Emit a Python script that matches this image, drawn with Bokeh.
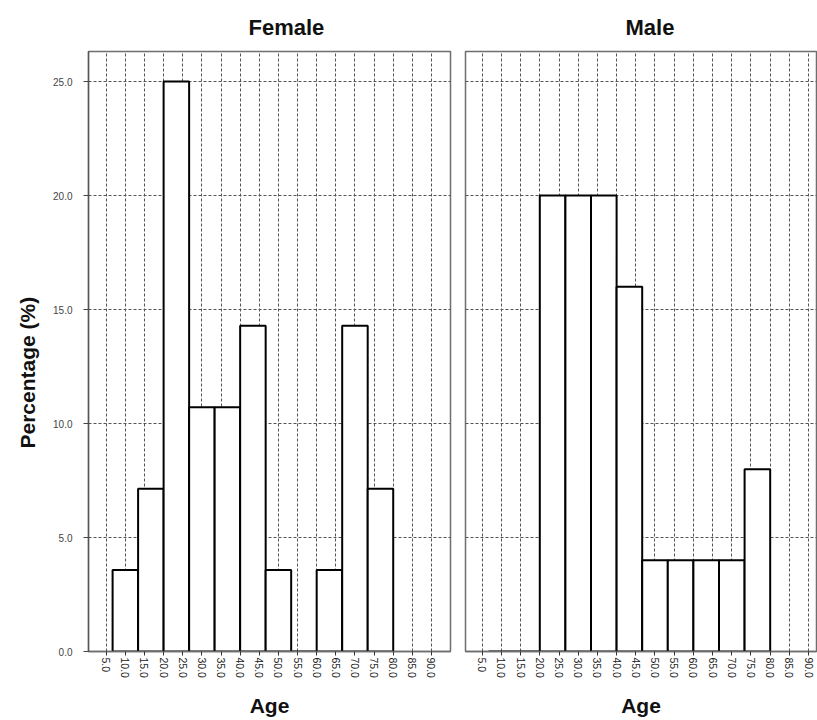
import math
from bokeh.plotting import figure
from bokeh.layouts import row
from bokeh.models import Range1d, FixedTicker, Title
from bokeh.embed import file_html
from bokeh.resources import INLINE

# ---- data ----
bin_index = list(range(11))
female_pct = [3.57, 7.14, 25.0, 10.71, 10.71, 14.29, 3.57, 0.0, 3.57, 14.29, 7.14]
male_pct = [0.0, 0.0, 20.0, 20.0, 20.0, 16.0, 4.0, 4.0, 4.0, 4.0, 8.0]
age_ticks = [5.0, 10.0, 15.0, 20.0, 25.0, 30.0, 35.0, 40.0, 45.0, 50.0,
             55.0, 60.0, 65.0, 70.0, 75.0, 80.0, 85.0, 90.0]
age_tick_labels = ["5.0", "10.0", "15.0", "20.0", "25.0", "30.0", "35.0", "40.0", "45.0",
                   "50.0", "55.0", "60.0", "65.0", "70.0", "75.0", "80.0", "85.0", "90.0"]
pct_ticks = [0.0, 5.0, 10.0, 15.0, 20.0, 25.0]
pct_tick_labels = ["0.0", "5.0", "10.0", "15.0", "20.0", "25.0"]
panel_titles = ["Female", "Male"]
x_title = "Age"
y_title = "Percentage (%)"

BIN_AGE = 20.0 / 3.0   # one bar slot expressed in tick units of the age axis
FONT = "Liberation Sans"


def make_panel(title, pct, x_start, x_end, frame_w, b_left, b_right, show_y):
    p = figure(output_backend="svg", toolbar_location=None,
               frame_width=frame_w, frame_height=600,
               min_border_left=b_left, min_border_right=b_right,
               min_border_top=50, min_border_bottom=0,
               x_range=Range1d(x_start, x_end), y_range=Range1d(0, 26.32),
               background_fill_color="white", border_fill_color="white")
    p.extra_x_ranges = {"bins": Range1d(x_start / BIN_AGE - 1.0, x_end / BIN_AGE - 1.0)}

    p.title.text = title
    p.title.text_font = FONT
    p.title.text_font_size = "22px"
    p.title.text_font_style = "bold"
    p.title.text_color = "#111111"
    p.title.align = "left"
    p.title.offset = 160
    p.title.standoff = 24

    p.outline_line_color = "#6e6e6e"
    p.outline_line_width = 1.5

    # grids
    p.xgrid.ticker = FixedTicker(ticks=age_ticks)
    p.ygrid.ticker = FixedTicker(ticks=pct_ticks)
    for g in (p.xgrid, p.ygrid):
        g.grid_line_color = "#555555"
        g.grid_line_dash = "3 2"
        g.grid_line_width = 1

    # x axis
    xa = p.xaxis[0]
    xa.ticker = FixedTicker(ticks=age_ticks)
    xa.major_label_overrides = dict(zip(age_ticks, age_tick_labels))
    xa.major_label_orientation = -math.pi / 2
    xa.major_label_text_font = FONT
    xa.major_label_text_font_size = "10.5px"
    xa.major_label_text_color = "#222222"
    xa.major_label_standoff = 2
    xa.major_tick_out = 4
    xa.major_tick_in = 0
    xa.minor_tick_out = 0
    xa.minor_tick_in = 0
    xa.axis_line_color = "#6e6e6e"
    xa.axis_line_width = 1.5
    xa.major_tick_line_color = "#333333"
    xa.axis_label = x_title
    xa.axis_label_text_font = FONT
    xa.axis_label_text_font_size = "21px"
    xa.axis_label_text_font_style = "bold"
    xa.axis_label_text_color = "#111111"
    xa.axis_label_standoff = 13

    ya = p.yaxis[0]
    if show_y:
        ya.ticker = FixedTicker(ticks=pct_ticks)
        ya.major_label_overrides = dict(zip(pct_ticks, pct_tick_labels))
        ya.major_label_text_font = FONT
        ya.major_label_text_font_size = "10px"
        ya.major_label_text_color = "#444444"
        ya.major_label_standoff = 11
        ya.major_tick_out = 5
        ya.major_tick_in = 0
        ya.minor_tick_out = 0
        ya.minor_tick_in = 0
        ya.axis_line_color = "#555555"
        ya.axis_line_width = 1.3
        ya.major_tick_line_color = "#444444"
        ylab = Title(text=y_title, align="left", offset=203, standoff=23,
                     text_font=FONT, text_font_size="21px", text_font_style="bold",
                     text_color="#111111")
        p.add_layout(ylab, "left")
    else:
        ya.visible = False

    p.quad(left=bin_index, right=[b + 1 for b in bin_index], bottom=0, top=pct,
           x_range_name="bins", fill_color="white", line_color="black", line_width=2)
    return p


p1 = make_panel(panel_titles[0], female_pct, 0.37, 94.97, 362, 88, 7, True)
p2 = make_panel(panel_titles[1], male_pct, 0.65, 92.06, 351, 8, 1, False)

layout = row(p1, p2)
open("out.html", "w").write(file_html(layout, INLINE))
